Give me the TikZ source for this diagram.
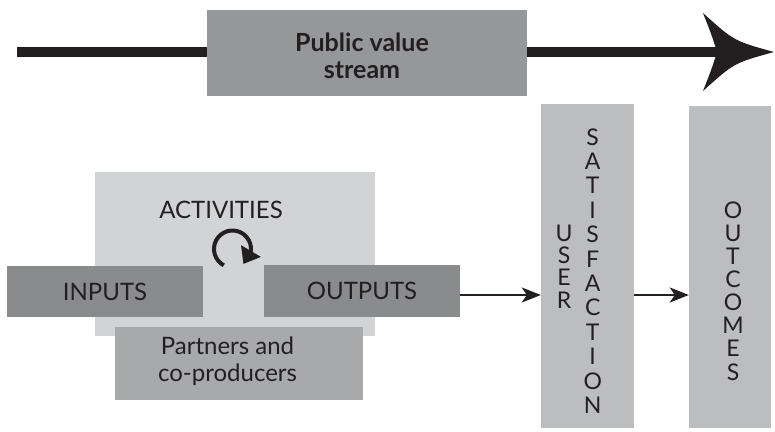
\documentclass[tikz,border=0pt]{standalone}
\usepackage{fontspec}
\setmainfont{Lato}
\usetikzlibrary{arrows.meta, bending, positioning}

\definecolor{streamgrey}{RGB}{150,151,153}
\definecolor{actgrey}{RGB}{210,211,213}
\definecolor{iogrey}{RGB}{138,139,141}
\definecolor{partgrey}{RGB}{168,169,171}
\definecolor{colgrey}{RGB}{188,189,191}
\definecolor{ink}{RGB}{35,31,32}

\begin{document}
\begin{tikzpicture}[x=1pt, y=1pt, every node/.style={text=ink, font=\fontsize{24}{28}\selectfont},
    box/.style={inner sep=0pt, align=center},
    flow/.style={draw=ink, line width=2.2pt, -{Stealth[length=19pt, width=15pt, inset=5pt]}},
    letters/.style={align=center, inner sep=0pt}]
    \useasboundingbox (0,0) rectangle (775,431);

    % value stream along the top
    \coordinate (start) at (17,379);
    \coordinate (notch) at (717,379);
    \coordinate (head) at (774,379);
    \draw[ink, line width=10pt] (start) -- (notch);
    \fill[ink] (703,418) .. controls (734,390) .. (head)
        .. controls (734,368) .. (703,340)
        .. controls (712,363) .. (notch)
        .. controls (712,395) .. cycle;
    \node[box, fill=streamgrey, minimum width=320, minimum height=86] (stream) at (367,378) {};
    \node[font=\fontsize{25}{27.5}\selectfont\bfseries, align=center] (streamtext) at (362,375) {Public value\\stream};

    % activities block
    \node[box, fill=actgrey, minimum width=280, minimum height=164] (activities) at (235,177) {};
    \node (acttext) at (221,221) {ACTIVITIES};
    \coordinate (cyc) at (232.5,182);
    \draw[ink, line width=4pt, -{Triangle[length=15pt, width=22pt]}]
        ([shift={(242:18.5)}]cyc) arc[start angle=242, end angle=-54, radius=18.5];
    \node[box, fill=iogrey, minimum width=196, minimum height=51] (inputs) at (105,139.5) {INPUTS};
    \node[box, fill=iogrey, minimum width=196, minimum height=52] (outputs) at (362,140) {OUTPUTS};
    \node[box, fill=partgrey, minimum width=248, minimum height=73] (partners) at (239,67.5) {};
    \node[align=center, font=\fontsize{24}{27}\selectfont] (parttext) at (227.5,69.5) {Partners and\\co-producers};

    % columns on the right
    \node[box, fill=colgrey, minimum width=93, minimum height=324] (satisfaction) at (587.5,165) {};
    \node[box, fill=colgrey, minimum width=82, minimum height=322] (outcomes) at (730,164) {};
    \node[letters, font=\fontsize{23}{22.3}\selectfont] (user) at (564,164.5) {U\\S\\E\\R};
    \node[letters, font=\fontsize{23}{24.4}\selectfont] (satis) at (592.7,160) {S\\A\\T\\I\\S\\F\\A\\C\\T\\I\\O\\N};
    \node[letters, font=\fontsize{23}{23.1}\selectfont] (outc) at (733,140) {O\\U\\T\\C\\O\\M\\E\\S};

    \draw[flow] ([yshift=-4pt]outputs.east) -- ([yshift=-4pt]outputs.east -| satisfaction.west);
    \draw[flow] ([yshift=-4pt]outputs.east -| satisfaction.east) -- ([yshift=-4pt]outputs.east -| outcomes.west);
\end{tikzpicture}
\end{document}
